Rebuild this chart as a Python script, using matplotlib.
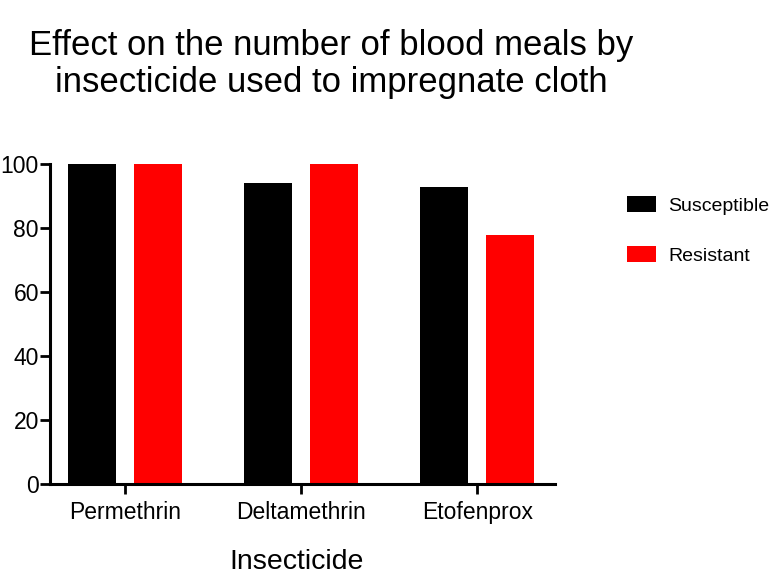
import numpy as np
import matplotlib.pyplot as plt

plt.rcParams['font.family'] = ['Liberation Sans', 'DejaVu Sans']

insecticides = ['Permethrin', 'Deltamethrin', 'Etofenprox']
susceptible = [100, 94, 93]
resistant = [100, 100, 78]

fig = plt.figure(figsize=(7.7, 5.74), dpi=100)
ax = fig.add_axes([0.065, 0.157, 0.656, 0.557])

x = np.arange(len(insecticides))
w = 0.273
off = 0.1875
ax.bar(x - off, susceptible, w, color='black', label='Susceptible')
ax.bar(x + off, resistant, w, color='#ff0000', label='Resistant')

ax.set_xlim(-0.426, 2.443)
ax.set_ylim(0, 100)
ax.set_yticks([0, 20, 40, 60, 80, 100])
ax.set_xticks(x)
ax.set_xticklabels(insecticides)
ax.tick_params(axis='both', labelsize=16.5, width=2, length=7, direction='out')
ax.tick_params(axis='y', pad=1)
ax.tick_params(axis='x', pad=5)

for s in ['top', 'right']:
    ax.spines[s].set_visible(False)
for s in ['left', 'bottom']:
    ax.spines[s].set_linewidth(2.2)

ax.set_xlabel('Insecticide', fontsize=20.5)
ax.xaxis.set_label_coords(0.488, -0.203)

fig.text(0.43, 0.95, 'Effect on the number of blood meals by\ninsecticide used to impregnate cloth',
         ha='center', va='top', fontsize=25, linespacing=1.15)

ax.legend(loc='upper left', bbox_to_anchor=(1.143, 0.9), frameon=False, fontsize=14,
          handlelength=1.45, handleheight=0.85, labelspacing=1.62, handletextpad=0.65,
          borderpad=0, borderaxespad=0)

fig.savefig('out.png', dpi=100)
